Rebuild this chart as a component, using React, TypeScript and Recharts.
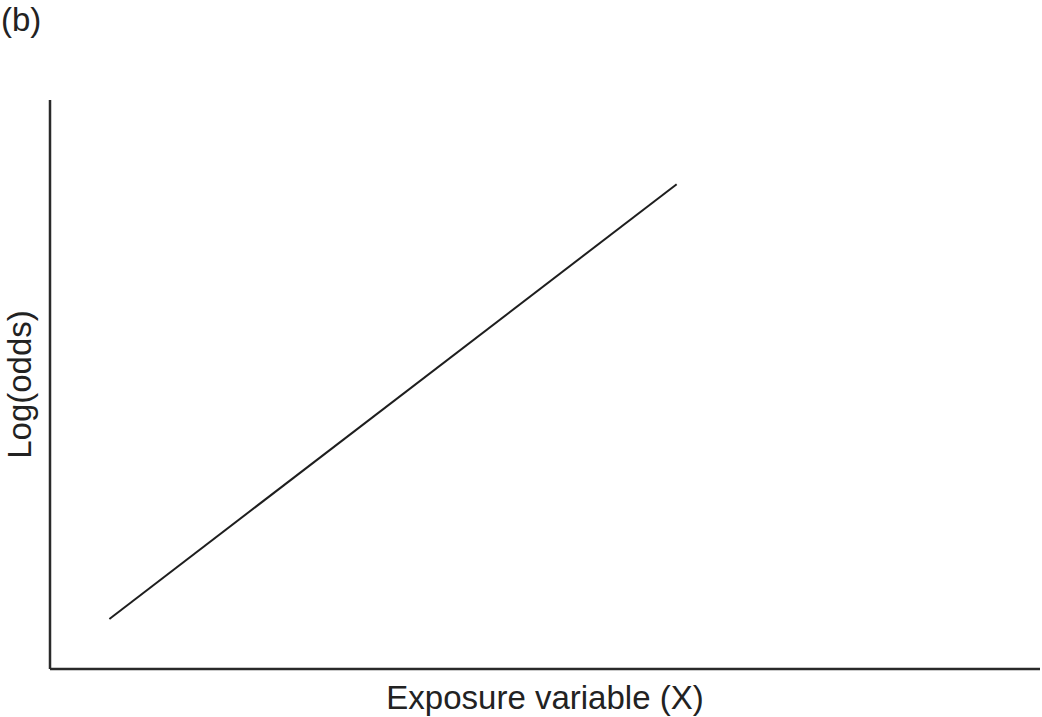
import { LineChart, Line, XAxis, YAxis, Label } from 'recharts';

// exposure (x) and log-odds (y), in arbitrary units 0..100
const exposure = [6, 63.3];
const logOdds = [8.8, 85.2];

const data = exposure.map((x, i) => ({ x, y: logOdds[i] }));

const font = '"Liberation Sans", Arial, Helvetica, sans-serif';

export default function App() {
  return (
    <div style={{ position: 'absolute', left: 0, top: 0, width: 1042, height: 717, background: '#fff', fontFamily: font }}>
      <div style={{ position: 'absolute', left: 1, top: 1, fontSize: 33, lineHeight: '38px', color: '#222' }}>(b)</div>
      <LineChart width={1042} height={717} data={data} margin={{ top: 100, right: 2, bottom: 0, left: 0 }}>
        <XAxis
          type="number"
          dataKey="x"
          domain={[0, 100]}
          tick={false}
          tickLine={false}
          height={48}
          axisLine={{ stroke: '#2a2a2a', strokeWidth: 2.5 }}
        >
          <Label value="Exposure variable (X)" position="center" dy={4} style={{ fontSize: 33, fill: '#222', fontFamily: font }} />
        </XAxis>
        <YAxis
          type="number"
          dataKey="y"
          domain={[0, 100]}
          tick={false}
          tickLine={false}
          width={50}
          axisLine={{ stroke: '#2a2a2a', strokeWidth: 2.5 }}
        >
          <Label value="Log(odds)" position="center" angle={-90} dx={-6} style={{ fontSize: 33, fill: '#222', fontFamily: font, textAnchor: 'middle' }} />
        </YAxis>
        <Line
          type="linear"
          dataKey="y"
          stroke="#1e1e1e"
          strokeWidth={2}
          dot={false}
          isAnimationActive={false}
        />
      </LineChart>
    </div>
  );
}
